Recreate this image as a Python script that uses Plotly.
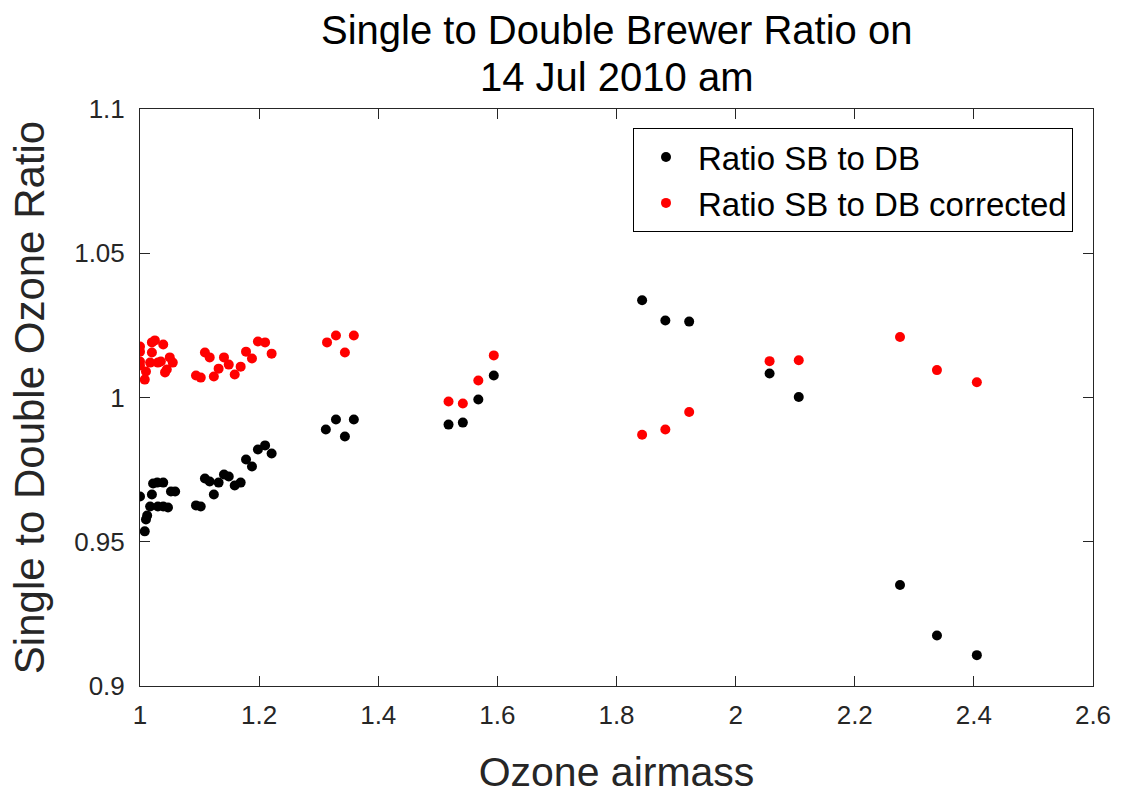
import plotly.graph_objects as go

# Ratio SB to DB (black)
black_x = [1.000, 1.008, 1.010, 1.012, 1.017, 1.020, 1.022, 1.029, 1.030, 1.039, 1.039, 1.047, 1.052, 1.059,
           1.094, 1.102, 1.109, 1.117, 1.124, 1.132, 1.141, 1.149, 1.159, 1.169, 1.178, 1.188, 1.198, 1.210, 1.221,
           1.312, 1.329, 1.344, 1.359,
           1.518, 1.542, 1.568, 1.594,
           1.843, 1.882, 1.922, 2.057, 2.106, 2.276, 2.338, 2.405]
black_y = [0.9657, 0.9536, 0.9577, 0.9591, 0.9622, 0.9664, 0.9702, 0.9705, 0.9622, 0.9622, 0.9705, 0.9619, 0.9674, 0.9674,
           0.9626, 0.9622, 0.9719, 0.9709, 0.9664, 0.9705, 0.9733, 0.9726, 0.9695, 0.9705, 0.9785, 0.9761, 0.9820, 0.9834, 0.9806,
           0.9889, 0.9924, 0.9865, 0.9924,
           0.9906, 0.9913, 0.9993, 1.0076,
           1.0337, 1.0267, 1.0263, 1.0083, 1.0002, 0.9350, 0.9175, 0.9107]

# Ratio SB to DB corrected (red)
red_x = [1.000, 1.000, 1.000, 1.000, 1.008, 1.010, 1.017, 1.020, 1.020, 1.025, 1.030, 1.035, 1.039, 1.042, 1.045, 1.050, 1.055,
         1.094, 1.102, 1.109, 1.117, 1.124, 1.132, 1.141, 1.149, 1.159, 1.169, 1.178, 1.188, 1.198, 1.210, 1.221,
         1.314, 1.329, 1.344, 1.359,
         1.518, 1.542, 1.568, 1.594,
         1.843, 1.882, 1.922, 2.057, 2.106, 2.276, 2.338, 2.405]
red_y = [1.0177, 1.0159, 1.0125, 1.0111, 1.0062, 1.0090, 1.0121, 1.0156, 1.0191, 1.0198, 1.0121, 1.0125, 1.0184, 1.0087, 1.0097, 1.0139, 1.0121,
         1.0076, 1.0069, 1.0156, 1.0139, 1.0073, 1.0100, 1.0139, 1.0114, 1.0080, 1.0107, 1.0159, 1.0135, 1.0194, 1.0191, 1.0152,
         1.0191, 1.0215, 1.0156, 1.0215,
         0.9986, 0.9979, 1.0059, 1.0146,
         0.9871, 0.9889, 0.9950, 1.0126, 1.0129, 1.0210, 1.0095, 1.0053]

x_tickvals = [1, 1.2, 1.4, 1.6, 1.8, 2, 2.2, 2.4, 2.6]
x_ticktext = ["1", "1.2", "1.4", "1.6", "1.8", "2", "2.2", "2.4", "2.6"]
y_tickvals = [0.9, 0.95, 1.0, 1.05, 1.1]
y_ticktext = ["0.9", "0.95", "1", "1.05", "1.1"]

title_lines = ["Single to Double Brewer Ratio on", "14 Jul 2010 am"]

FONT = "Liberation Sans, Arial, sans-serif"
AXC = "#262626"

fig = go.Figure()
fig.add_trace(go.Scatter(x=black_x, y=black_y, mode="markers", name="Ratio SB to DB",
                         marker=dict(color="black", size=10, line=dict(width=0))))
fig.add_trace(go.Scatter(x=red_x, y=red_y, mode="markers", name="Ratio SB to DB corrected",
                         marker=dict(color="#FF0000", size=10, line=dict(width=0))))

axis_common = dict(showgrid=False, zeroline=False, showline=True, linecolor=AXC, linewidth=1,
                   mirror="ticks", ticks="inside", ticklen=10, tickcolor=AXC, tickwidth=1,
                   automargin=False,
                   tickfont=dict(family=FONT, size=26, color=AXC))

# Two-line title placed as annotations above the plot area
for txt, ypos in zip(title_lines, [1.137, 1.0555]):
    fig.add_annotation(text=txt, xref="paper", yref="paper", x=0.5, y=ypos,
                       xanchor="center", yanchor="middle", showarrow=False,
                       font=dict(family=FONT, size=40, color="black"))

fig.update_layout(
    width=1122, height=795,
    paper_bgcolor="white", plot_bgcolor="white",
    margin=dict(l=140, r=29, t=109, b=109),
    font=dict(family=FONT, color=AXC),
    xaxis=dict(range=[1, 2.6], tickvals=x_tickvals, ticktext=x_ticktext,
               ticklabelstandoff=6,
               title=dict(text="Ozone airmass", font=dict(family=FONT, size=41, color=AXC), standoff=31),
               **axis_common),
    yaxis=dict(range=[0.9, 1.1], tickvals=y_tickvals, ticktext=y_ticktext,
               ticklabelstandoff=9,
               title=dict(text="Single to Double Ozone Ratio", font=dict(family=FONT, size=42, color=AXC), standoff=16),
               **axis_common),
    legend=dict(x=0.979, y=0.967, xanchor="right", yanchor="top",
                bgcolor="white", bordercolor="black", borderwidth=1,
                font=dict(family=FONT, size=33, color="black"),
                itemwidth=54, tracegroupgap=0),
    showlegend=True,
)

fig.write_html("out.html", config={"displayModeBar": False},
               post_script="document.body.style.margin='0px';")
